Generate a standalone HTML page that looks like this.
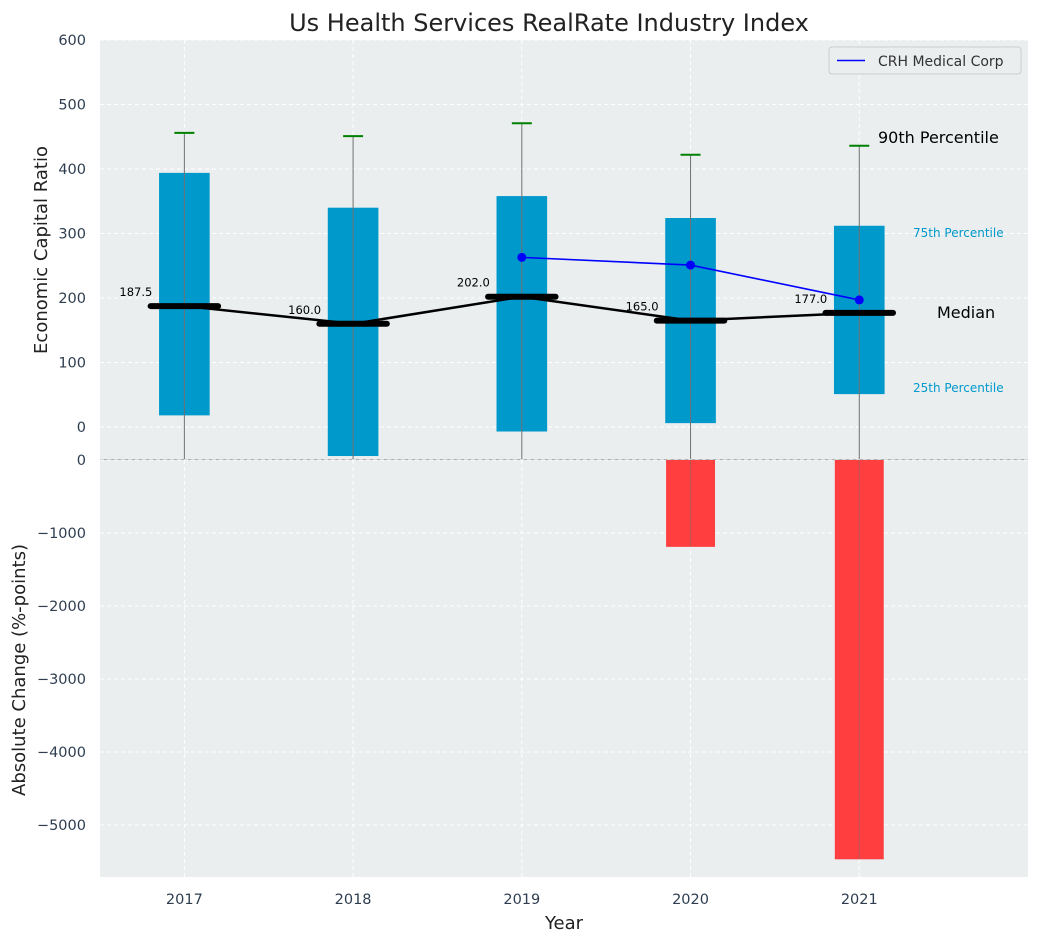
<!DOCTYPE html>
<html><head><meta charset="utf-8"><style>
body{margin:0;background:#fff;font-family:"Liberation Sans","DejaVu Sans",sans-serif;}
svg text{font-family:"DejaVu Sans","Liberation Sans",sans-serif;}
</style></head><body>
<svg id="chart" width="1039" height="942" xmlns="http://www.w3.org/2000/svg"></svg>
<script>
const years=[2017,2018,2019,2020,2021];
const p25=[18,-45,-7,6,51];
const p75=[394,340,358,324,312];
const p90=[456,451,471,422,436];
const medians=[187.5,160,202,165,177];
const crhYears=[2019,2020,2021];
const crhValues=[263,251,197];
const changes=[0,0,0,-1190,-5470];
const topTicks=[0,100,200,300,400,500,600];
const botTicks=[0,-1000,-2000,-3000,-4000,-5000];

const NS="http://www.w3.org/2000/svg";
const svg=document.getElementById('chart');
function mk(tag,attrs,parent){const e=document.createElementNS(NS,tag);for(const k in attrs)e.setAttribute(k,attrs[k]);(parent||svg).appendChild(e);return e;}
const X0=100,X1=1028;
const x=v=>X0+(v-2016.5)/(2022-2016.5)*(X1-X0);
const yT=v=>427-v*0.645;
const TT=40,TB=459;
const yB=v=>460-v*0.073;
const BT=460,BB=877;

let e=mk('rect',{x:X0,y:TT,width:X1-X0,height:TB-TT,fill:'#eaeeef'});

e=mk('rect',{x:X0,y:BT,width:X1-X0,height:BB-BT,fill:'#eaeeef'});

mk('line',{x1:X0,x2:X1,y1:459.5,y2:459.5,stroke:'#b0b0b0','stroke-width':1});

topTicks.forEach(t=>{
  mk('line',{x1:X0,x2:X1,y1:yT(t),y2:yT(t),stroke:'#fff','stroke-dasharray':'4,3','stroke-width':1});
  e=mk('text',{x:86,y:yT(t)+5,'text-anchor':'end','font-size':14.5,fill:'#2e3e50'});e.textContent=t;
  
});
botTicks.forEach(t=>{
  mk('line',{x1:X0,x2:X1,y1:yB(t),y2:yB(t),stroke:'#fff','stroke-dasharray':'4,3','stroke-width':1});
  e=mk('text',{x:86,y:yB(t)+5,'text-anchor':'end','font-size':14.5,fill:'#2e3e50'});e.textContent=t===0?'0':'\u2212'+Math.abs(t);
  
});
years.forEach(yr=>{
  mk('line',{x1:x(yr),x2:x(yr),y1:TT,y2:TB,stroke:'#fff','stroke-dasharray':'4,3'});
  mk('line',{x1:x(yr),x2:x(yr),y1:BT,y2:BB,stroke:'#fff','stroke-dasharray':'4,3'});
  e=mk('text',{x:x(yr),y:904,'text-anchor':'middle','font-size':14.5,fill:'#2e3e50'});e.textContent=yr;
  
});

const bw=x(0.3)-x(0);
years.forEach((yr,i)=>{
  e=mk('rect',{x:x(yr)-bw/2,y:yT(p75[i]),width:bw,height:yT(p25[i])-yT(p75[i]),fill:'#0099cc'});
  
  e=mk('line',{x1:x(yr),x2:x(yr),y1:yT(p90[i]),y2:TB,stroke:'#707070','stroke-width':1});
  
  e=mk('line',{x1:x(yr)-10,x2:x(yr)+10,y1:yT(p90[i]),y2:yT(p90[i]),stroke:'green','stroke-width':2});
  
});
e=mk('polyline',{points:years.map((yr,i)=>x(yr)+','+yT(medians[i])).join(' '),fill:'none',stroke:'#000','stroke-width':2.5});

const mw=x(0.2)-x(0);
years.forEach((yr,i)=>{
  e=mk('line',{x1:x(yr)-mw,x2:x(yr)+mw,y1:yT(medians[i]),y2:yT(medians[i]),stroke:'#000','stroke-width':6,'stroke-linecap':'round'});
  
  e=mk('text',{x:x(yr)-32,y:yT(medians[i])-10,'text-anchor':'end','font-size':11.5,fill:'#000'});e.textContent=medians[i].toFixed(1);
  
});
e=mk('polyline',{points:crhYears.map((yr,i)=>x(yr)+','+yT(crhValues[i])).join(' '),fill:'none',stroke:'blue','stroke-width':1.6});

crhYears.forEach((yr,i)=>{e=mk('circle',{cx:x(yr),cy:yT(crhValues[i]),r:4.5,fill:'blue'});
  });

const cw=x(0.29)-x(0);
years.forEach((yr,i)=>{ if(changes[i]===0)return;
  e=mk('rect',{x:x(yr)-cw/2,y:yB(0),width:cw,height:yB(changes[i])-yB(0),fill:'#ff3f3f'});
  
  mk('line',{x1:x(yr),x2:x(yr),y1:BT,y2:yB(changes[i]),stroke:'#707070','stroke-width':1,'stroke-opacity':0.5});
});

const ann=[['90th Percentile',878,143,16,'#000'],['75th Percentile',913,237,12,'#0099cc'],['Median',937,318,16,'#000'],['25th Percentile',913,392,12,'#0099cc']];
ann.forEach(a=>{e=mk('text',{x:a[1],y:a[2],'font-size':a[3],fill:a[4]});e.textContent=a[0];
  });

const lg=mk('g',{});
mk('rect',{x:829,y:47,width:192,height:27,rx:3,fill:'#eaeeef',stroke:'#ccc'},lg);
mk('line',{x1:837,x2:865,y1:60.5,y2:60.5,stroke:'blue','stroke-width':1.6},lg);
e=mk('text',{x:878,y:66,'font-size':14,fill:'#333'},lg);e.textContent='CRH Medical Corp';

e=mk('text',{x:549,y:31,'text-anchor':'middle','font-size':24,fill:'#222'});e.textContent='Us Health Services RealRate Industry Index';

e=mk('text',{x:564,y:929,'text-anchor':'middle','font-size':18,fill:'#222'});e.textContent='Year';

e=mk('text',{x:0,y:0,'text-anchor':'middle','font-size':18,fill:'#222',transform:'translate(47,250) rotate(-90)'});e.textContent='Economic Capital Ratio';

e=mk('text',{x:0,y:0,'text-anchor':'middle','font-size':18,fill:'#222',transform:'translate(25,670) rotate(-90)'});e.textContent='Absolute Change (%-points)';

</script>
</body></html>
